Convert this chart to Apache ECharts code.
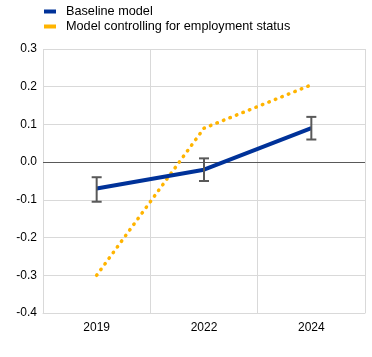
<!DOCTYPE html>
<html><head><meta charset="utf-8">
<script src="https://cdn.jsdelivr.net/npm/echarts@6/dist/echarts.min.js"></script>
<style>html,body{margin:0;padding:0;background:#fff}#c{width:372px;height:357px}</style>
</head><body><div id="c"></div>
<script>
var categories = ['2019', '2022', '2024'];
var baseline = [-0.07, -0.02, 0.09];
var baselineLow = [-0.105, -0.05, 0.06];
var baselineHigh = [-0.04, 0.01, 0.12];
var controlled = [-0.30, 0.09, 0.205];
var yTicks = [-0.4, 0.3, 0.1];

var errData = categories.map(function (c, i) { return [i, baselineLow[i], baselineHigh[i]]; });
var font = 'Liberation Sans, Arial, sans-serif';
var chart = echarts.init(document.getElementById('c'));
chart.setOption({
  animation: false,
  grid: { left: 43, right: 7, top: 49, bottom: 44 },
  legend: {
    orient: 'vertical', left: 39, top: 0, itemGap: 2,
    itemWidth: 12, itemHeight: 4, icon: 'rect',
    textStyle: { fontFamily: font, fontSize: 12.7, color: '#000', padding: [0, 0, 0, 5] },
    data: ['Baseline model', 'Model controlling for employment status']
  },
  xAxis: {
    type: 'category', data: categories, boundaryGap: true,
    axisLine: { show: true, onZero: false, lineStyle: { color: '#d9d9d9', width: 1 } },
    axisTick: { show: false },
    splitLine: { show: true, lineStyle: { color: '#d9d9d9', width: 1 } },
    axisLabel: { fontFamily: font, fontSize: 12, color: '#000', margin: 9 }
  },
  yAxis: {
    type: 'value', min: yTicks[0], max: yTicks[1], interval: yTicks[2],
    axisLine: { show: false }, axisTick: { show: false },
    splitLine: { lineStyle: { color: '#d9d9d9', width: 1 } },
    axisLabel: { fontFamily: font, fontSize: 12, color: '#000', margin: 6,
      formatter: function (v) { return v.toFixed(1); } }
  },
  series: [
    {
      name: 'Model controlling for employment status', type: 'line', data: controlled,
      symbol: 'none', z: 3,
      itemStyle: { color: '#ffb400' },
      lineStyle: { color: '#ffb400', width: 3.5, type: [0.5, 6.5], cap: 'round' }
    },
    {
      name: 'Baseline model', type: 'line', data: baseline, symbol: 'none', z: 4,
      itemStyle: { color: '#003299' },
      lineStyle: { color: '#003299', width: 4 },
      markLine: {
        silent: true, symbol: 'none', label: { show: false },
        lineStyle: { color: '#595959', width: 1.2, type: 'solid' },
        data: [{ yAxis: 0 }], z: 2
      }
    },
    {
      name: 'err', type: 'custom', data: errData, z: 5,
      renderItem: function (params, api) {
        var x = api.value(0);
        var lo = api.coord([x, api.value(1)]);
        var hi = api.coord([x, api.value(2)]);
        var w = 5;
        var st = { stroke: '#595959', lineWidth: 2 };
        return { type: 'group', children: [
          { type: 'line', shape: { x1: lo[0], y1: lo[1], x2: hi[0], y2: hi[1] }, style: st },
          { type: 'line', shape: { x1: lo[0] - w, y1: lo[1], x2: lo[0] + w, y2: lo[1] }, style: st },
          { type: 'line', shape: { x1: hi[0] - w, y1: hi[1], x2: hi[0] + w, y2: hi[1] }, style: st }
        ] };
      }
    }
  ]
});
</script></body></html>
